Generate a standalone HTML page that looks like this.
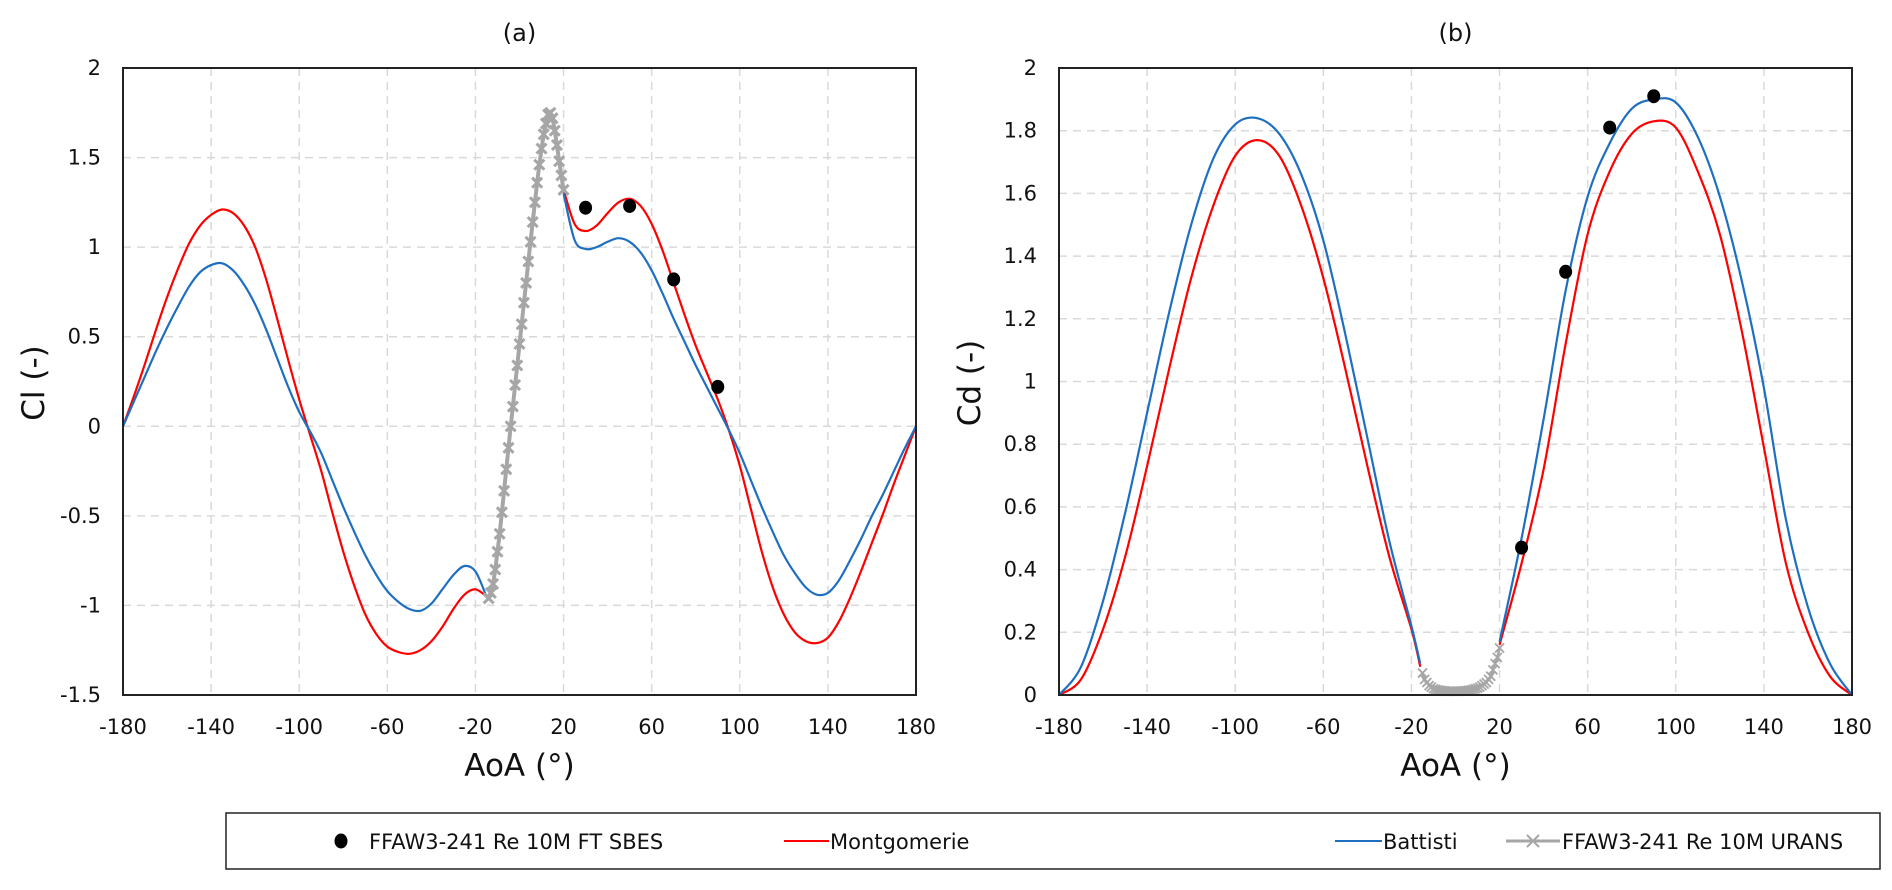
<!DOCTYPE html>
<html><head><meta charset="utf-8"><style>
html,body{margin:0;padding:0;background:#fff;}
svg{display:block;font-family:"DejaVu Sans","Liberation Sans",sans-serif;}
</style></head><body>
<svg id="fig" width="1892" height="890" viewBox="0 0 1892 890" xmlns="http://www.w3.org/2000/svg">
<g id="legend">
<rect x="226" y="813" width="1654" height="56" fill="#fff" stroke="#222" stroke-width="1.5"/>
<g><ellipse cx="341" cy="841" rx="6.5" ry="7.5" fill="#000"/><text x="369" y="849" font-size="21" fill="#111">FFAW3-241 Re 10M FT SBES</text></g>
<g><line x1="784" y1="841" x2="829" y2="841" stroke="#ff0000" stroke-width="2"/><text x="830" y="849" font-size="21" fill="#111">Montgomerie</text></g>
<g><line x1="1335" y1="841" x2="1382" y2="841" stroke="#1f6fc1" stroke-width="2"/><text x="1383" y="849" font-size="21" fill="#111">Battisti</text></g>
<g><line x1="1506" y1="841" x2="1560" y2="841" stroke="#a6a6a6" stroke-width="3"/><path d="M1527 835l12 12M1539 835l-12 12" stroke="#a6a6a6" stroke-width="2"/><text x="1562" y="849" font-size="21" fill="#111">FFAW3-241 Re 10M URANS</text></g>
</g>
</svg>
<script>
// ---- Chart (a) Cl data ----
const clMontAoaNeg = [-180,-175,-170,-165,-160,-155,-150,-145,-140,-135,-130,-125,-120,-115,-110,-105,-100,-95,-90,-85,-80,-75,-70,-65,-60,-55,-50,-45,-40,-35,-30,-25,-20,-15];
const clMontNeg    = [0,0.17,0.35,0.54,0.72,0.88,1.02,1.12,1.18,1.21,1.19,1.12,1.0,0.82,0.6,0.37,0.15,-0.05,-0.25,-0.48,-0.7,-0.89,-1.05,-1.16,-1.23,-1.26,-1.27,-1.25,-1.2,-1.12,-1.02,-0.94,-0.91,-0.95];
const clBatAoaNeg  = [-180,-175,-170,-165,-160,-155,-150,-145,-140,-135,-130,-125,-120,-115,-110,-105,-100,-95,-90,-85,-80,-75,-70,-65,-60,-55,-50,-45,-40,-35,-30,-25,-20,-15];
const clBatNeg     = [0,0.14,0.28,0.42,0.55,0.67,0.78,0.86,0.9,0.91,0.87,0.79,0.68,0.54,0.38,0.22,0.08,-0.03,-0.15,-0.3,-0.45,-0.59,-0.72,-0.83,-0.92,-0.98,-1.02,-1.03,-0.99,-0.91,-0.83,-0.78,-0.81,-0.95];
const clMontAoaPos = [20,25,30,35,40,45,50,55,60,65,70,75,80,85,90,95,100,105,110,115,120,125,130,135,140,145,150,155,160,165,170,175,180];
const clMontPos    = [1.32,1.13,1.09,1.12,1.19,1.25,1.27,1.23,1.13,0.98,0.8,0.62,0.45,0.3,0.15,-0.02,-0.22,-0.46,-0.7,-0.9,-1.05,-1.15,-1.2,-1.21,-1.18,-1.09,-0.96,-0.81,-0.65,-0.49,-0.32,-0.16,0];
const clBatAoaPos  = [20,25,30,35,40,45,50,55,60,65,70,75,80,85,90,95,100,105,110,115,120,125,130,135,140,145,150,155,160,165,170,175,180];
const clBatPos     = [1.3,1.04,0.99,1.0,1.03,1.05,1.03,0.97,0.87,0.74,0.6,0.47,0.34,0.22,0.1,-0.02,-0.15,-0.3,-0.45,-0.59,-0.72,-0.82,-0.9,-0.94,-0.93,-0.86,-0.75,-0.63,-0.5,-0.38,-0.25,-0.12,0];
const sbesAoa = [30,50,70,90];
const sbesCl  = [1.22,1.23,0.82,0.22];
const uransClAoa = [-14,-13,-12,-11,-10,-9,-8,-7,-6,-5,-4,-3,-2,-1,0,1,2,3,4,5,6,7,8,9,10,11,12,13,14,15,16,17,18,19,20];
const uransCl    = [-0.96,-0.93,-0.88,-0.8,-0.7,-0.6,-0.48,-0.36,-0.24,-0.12,0,0.11,0.23,0.34,0.46,0.57,0.69,0.8,0.92,1.03,1.14,1.25,1.36,1.46,1.55,1.63,1.69,1.74,1.75,1.72,1.65,1.57,1.48,1.4,1.32];
// ---- Chart (b) Cd data ----
const cdMontAoaNeg = [-180,-170,-160,-150,-140,-130,-120,-110,-100,-90,-80,-70,-60,-50,-40,-30,-20,-16];
const cdMontNeg    = [0,0.05,0.21,0.44,0.73,1.04,1.33,1.56,1.72,1.77,1.72,1.56,1.33,1.04,0.73,0.44,0.21,0.09];
const cdBatAoaNeg  = [-180,-170,-160,-150,-140,-130,-120,-110,-100,-90,-80,-70,-60,-50,-40,-30,-20,-16];
const cdBatNeg     = [0,0.09,0.3,0.58,0.9,1.22,1.5,1.71,1.82,1.84,1.79,1.66,1.45,1.15,0.82,0.49,0.22,0.1];
const cdMontAoaPos = [20,30,40,50,60,70,80,90,100,110,120,130,140,150,160,170,180];
const cdMontPos    = [0.16,0.42,0.72,1.12,1.47,1.67,1.79,1.83,1.81,1.67,1.47,1.16,0.79,0.42,0.2,0.06,0];
const cdBatAoaPos  = [20,30,40,50,60,70,80,90,100,110,120,130,140,150,160,170,180];
const cdBatPos     = [0.17,0.5,0.88,1.29,1.59,1.76,1.87,1.9,1.89,1.78,1.59,1.32,0.98,0.56,0.28,0.1,0];
const sbesCd  = [0.47,1.35,1.81,1.91];
const uransCdAoa = [-15,-14,-13,-12,-11,-10,-9,-8,-7,-6,-5,-4,-3,-2,-1,0,1,2,3,4,5,6,7,8,9,10,11,12,13,14,15,16,17,18,19,20];
const uransCd    = [0.07,0.05,0.04,0.03,0.025,0.02,0.018,0.016,0.015,0.014,0.013,0.012,0.012,0.012,0.012,0.012,0.012,0.012,0.013,0.013,0.014,0.015,0.016,0.018,0.02,0.022,0.025,0.03,0.035,0.04,0.05,0.06,0.08,0.1,0.12,0.15];
const xTicks = [-180,-140,-100,-60,-20,20,60,100,140,180];
const clTicks = [2,1.5,1,0.5,0,-0.5,-1,-1.5];
const cdTicks = [0,0.2,0.4,0.6,0.8,1,1.2,1.4,1.6,1.8,2];

const NS='http://www.w3.org/2000/svg';
const svg=document.getElementById('fig');
function mk(tag,attrs,parent){const e=document.createElementNS(NS,tag);for(const k in attrs)e.setAttribute(k,attrs[k]);(parent||svg).appendChild(e);return e;}
function smooth(pts){let d='M'+pts[0][0].toFixed(2)+' '+pts[0][1].toFixed(2);
 for(let i=0;i<pts.length-1;i++){const p0=pts[i-1]||pts[i],p1=pts[i],p2=pts[i+1],p3=pts[i+2]||p2;
  const c1=[p1[0]+(p2[0]-p0[0])/6,p1[1]+(p2[1]-p0[1])/6],c2=[p2[0]-(p3[0]-p1[0])/6,p2[1]-(p3[1]-p1[1])/6];
  d+=' C'+c1[0].toFixed(2)+' '+c1[1].toFixed(2)+' '+c2[0].toFixed(2)+' '+c2[1].toFixed(2)+' '+p2[0].toFixed(2)+' '+p2[1].toFixed(2);}
 return d;}

function chart(o){
 const g=mk('g',{});
 
 
 const L=o.left,R=o.right,T=68,B=695;
 const X=v=>L+(v+180)/360*(R-L);
 const Y=v=>B-(v-o.ymin)/(o.ymax-o.ymin)*(B-T);
 xTicks.forEach(t=>{
  if(t>-180&&t<180){const l=mk('line',{x1:X(t),x2:X(t),y1:T,y2:B,stroke:'#d9d9d9','stroke-width':1.5,'stroke-dasharray':'8 6'},g);
   
   }
  const tx=mk('text',{x:X(t),y:734,'font-size':21,'text-anchor':'middle',fill:'#111'},g);tx.textContent=t;
  
  
 });
 o.ticks.forEach(t=>{
  if(t>o.ymin&&t<o.ymax){const l=mk('line',{x1:L,x2:R,y1:Y(t),y2:Y(t),stroke:'#d9d9d9','stroke-width':1.5,'stroke-dasharray':'8 6'},g);
   
   }
  const tx=mk('text',{x:L-22,y:Y(t)+7,'font-size':21,'text-anchor':'end',fill:'#111'},g);tx.textContent=t;
  
  
 });
 const clip='c'+o.name;const cp=mk('clipPath',{id:clip},g);mk('rect',{x:L,y:T-30,width:R-L,height:B-T+30},cp);
 const series=[[o.mAoaN,o.mN,'#ff0000','montgomerie-line-neg'],[o.bAoaN,o.bN,'#1f6fc1','battisti-line-neg'],[o.mAoaP,o.mP,'#ff0000','montgomerie-line-pos'],[o.bAoaP,o.bP,'#1f6fc1','battisti-line-pos']];
 series.forEach(s=>{const p=mk('path',{d:smooth(s[0].map((a,i)=>[X(a),Y(s[1][i])])),fill:'none',stroke:s[2],'stroke-width':2.2,'clip-path':'url(#'+clip+')'},g);
  
  });
 const up=o.uAoa.map((a,i)=>[X(a),Y(o.u[i])]);
 const ul=mk('path',{d:'M'+up.map(p=>p[0].toFixed(2)+' '+p[1].toFixed(2)).join(' L'),fill:'none',stroke:'#a6a6a6','stroke-width':o.uw},g);
 
 
 up.forEach(p=>{const s=o.ms;const m=mk('path',{d:`M${p[0]-s} ${p[1]-s}L${p[0]+s} ${p[1]+s}M${p[0]+s} ${p[1]-s}L${p[0]-s} ${p[1]+s}`,stroke:'#a6a6a6','stroke-width':o.mw},g);
  
  });
 sbesAoa.forEach((a,i)=>{const c=mk('ellipse',{cx:X(a),cy:Y(o.sb[i]),rx:6.5,ry:7,fill:'#000'},g);
  
  });
 const fr=mk('rect',{x:L,y:T,width:R-L,height:B-T,fill:'none',stroke:'#222','stroke-width':2},g);
 
 
 const ti=mk('text',{x:(L+R)/2,y:41,'font-size':24,'text-anchor':'middle',fill:'#111'},g);ti.textContent=o.title;
 
 
 const xt=mk('text',{x:(L+R)/2,y:776,'font-size':31,'text-anchor':'middle',fill:'#111'},g);xt.textContent='AoA (°)';
 
 
 const yt=mk('text',{x:0,y:0,'font-size':31,'text-anchor':'middle',fill:'#111',transform:`translate(${L-79},383) rotate(-90)`},g);yt.textContent=o.ylab;
 
 
}
chart({name:'cl-chart',title:'(a)',ylab:'Cl (-)',left:123,right:916,ymin:-1.5,ymax:2,ticks:clTicks,
 mAoaN:clMontAoaNeg,mN:clMontNeg,bAoaN:clBatAoaNeg,bN:clBatNeg,mAoaP:clMontAoaPos,mP:clMontPos,bAoaP:clBatAoaPos,bP:clBatPos,
 uAoa:uransClAoa,u:uransCl,uw:4,ms:5,mw:3,sb:sbesCl});
chart({name:'cd-chart',title:'(b)',ylab:'Cd (-)',left:1059,right:1852,ymin:0,ymax:2,ticks:cdTicks,
 mAoaN:cdMontAoaNeg,mN:cdMontNeg,bAoaN:cdBatAoaNeg,bN:cdBatNeg,mAoaP:cdMontAoaPos,mP:cdMontPos,bAoaP:cdBatAoaPos,bP:cdBatPos,
 uAoa:uransCdAoa,u:uransCd,uw:2.5,ms:4.5,mw:1.8,sb:sbesCd});
svg.appendChild(document.getElementById('legend'));
</script>
</body></html>
